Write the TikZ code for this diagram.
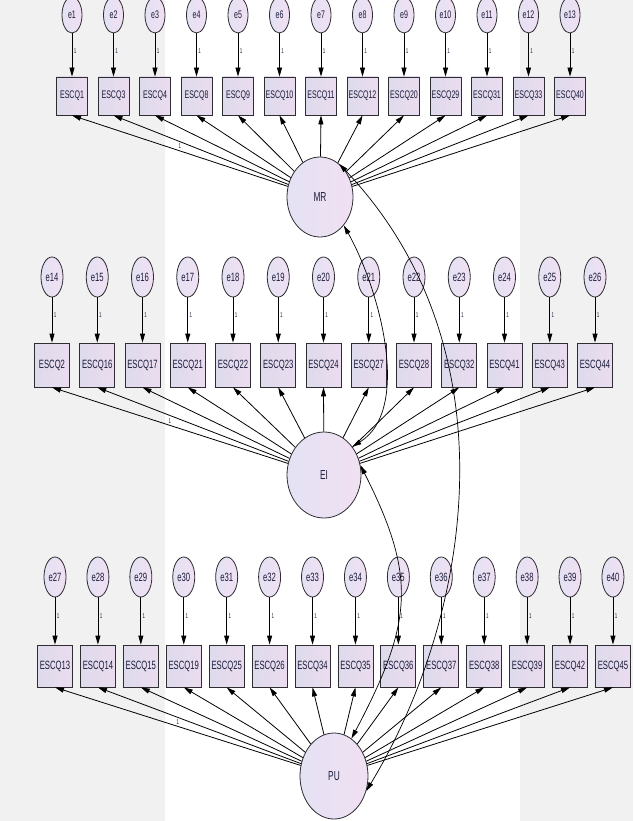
\documentclass[tikz,border=0pt]{standalone}
\usepackage{fontspec}
\setmainfont{Liberation Sans}
\newfontfamily\narrowfont[FakeStretch=0.64]{Liberation Sans}
\usetikzlibrary{arrows.meta,shapes.geometric}
\definecolor{lavl}{RGB}{228,226,243}
\definecolor{lavr}{RGB}{240,224,242}
\definecolor{boxl}{RGB}{222,219,236}
\definecolor{boxr}{RGB}{234,220,238}
\definecolor{edgec}{RGB}{45,45,50}
\definecolor{txt}{RGB}{28,28,58}
\definecolor{bgc}{RGB}{241,241,241}
\begin{document}
\begin{tikzpicture}[x=1pt,y=-1pt,
  err/.style={ellipse,draw=edgec,left color=lavl,right color=lavr,line width=0.8pt,inner sep=0pt,text=txt,font=\narrowfont\fontsize{12}{13}\selectfont},
  obs/.style={rectangle,draw=edgec,left color=boxl,right color=boxr,line width=0.8pt,inner sep=0pt,text=txt,font=\narrowfont\fontsize{12}{13}\selectfont},
  lat/.style={ellipse,draw=edgec,left color=lavl,right color=lavr,line width=0.8pt,inner sep=0pt,text=txt,font=\narrowfont\fontsize{13}{14}\selectfont},
  load/.style={-{Triangle[length=9pt,width=5pt]},line width=0.8pt,draw=black},
  cov/.style={{Triangle[length=9pt,width=5pt]}-{Triangle[length=9pt,width=5pt]},line width=0.7pt,draw=black},
  one/.style={font=\narrowfont\fontsize{7}{7}\selectfont,text=txt,inner sep=1.5pt}]
\useasboundingbox (0,0) rectangle (633,821);
\fill[bgc] (0,0) rectangle (165,821);
\fill[bgc] (520,0) rectangle (633,821);
% latent variables
\node[lat,minimum width=66pt,minimum height=80pt] (MR) at (320,197) {MR};
\node[lat,minimum width=74pt,minimum height=86pt] (EI) at (324,475) {EI};
\node[lat,minimum width=68pt,minimum height=86pt] (PU) at (334,776) {PU};
% top row
\foreach \lab [count=\i] in {1,3,4,8,9,10,11,12,20,29,31,33,40} {
  \pgfmathsetmacro\xx{72+41.5*(\i-1)}
  \node[err,minimum width=20pt,minimum height=36pt,font=\narrowfont\fontsize{11}{12}\selectfont] (e\i) at (\xx,15) {e\i};
  \node[obs,minimum width=31pt,minimum height=38pt,font=\narrowfont\fontsize{11}{12}\selectfont] (t\i) at (\xx,96) {ESCQ\lab};
  \draw[load] (e\i.south) -- node[one,right,pos=0.4]{1} (t\i.north);
}
% middle row
\foreach \lab [count=\i] in {2,16,17,21,22,23,24,27,28,32,41,43,44} {
  \pgfmathsetmacro\xx{52+45.25*(\i-1)}
  \pgfmathtruncatemacro\en{\i+13}
  \node[err,minimum width=22pt,minimum height=40pt] (e\en) at (\xx,277) {e\en};
  \node[obs,minimum width=35pt,minimum height=44pt] (m\i) at (\xx,365) {ESCQ\lab};
  \draw[load] (e\en.south) -- node[one,right,pos=0.4]{1} (m\i.north);
}
% bottom row
\foreach \lab [count=\i] in {13,14,15,19,25,26,34,35,36,37,38,39,42,45} {
  \pgfmathsetmacro\xx{55+42.92*(\i-1)}
  \pgfmathtruncatemacro\en{\i+26}
  \node[err,minimum width=22pt,minimum height=40pt] (e\en) at (\xx,577) {e\en};
  \node[obs,minimum width=35pt,minimum height=42pt] (b\i) at (\xx,666) {ESCQ\lab};
  \draw[load] (e\en.south) -- node[one,right,pos=0.4]{1} (b\i.north);
}
% loadings
\draw[load] (MR) -- node[one,above,pos=0.5]{1} (t1.south);
\foreach \i in {2,...,13} { \draw[load] (MR) -- (t\i.south); }
\draw[load] (EI) -- node[one,above,pos=0.5]{1} (m1.south);
\foreach \i in {2,...,13} { \draw[load] (EI) -- (m\i.south); }
\draw[load] (PU) -- node[one,above,pos=0.5]{1} (b1.south);
\foreach \i in {2,...,14} { \draw[load] (PU) -- (b\i.south); }
% covariances
\draw[cov] (MR.-50) .. controls (380,290) and (412,410) .. (EI.45);
\draw[cov] (MR.60) .. controls (514,347) and (473,614) .. (PU.-25);
\draw[cov] (EI.15) .. controls (417,577) and (413,622) .. (PU.65);
\end{tikzpicture}
\end{document}
